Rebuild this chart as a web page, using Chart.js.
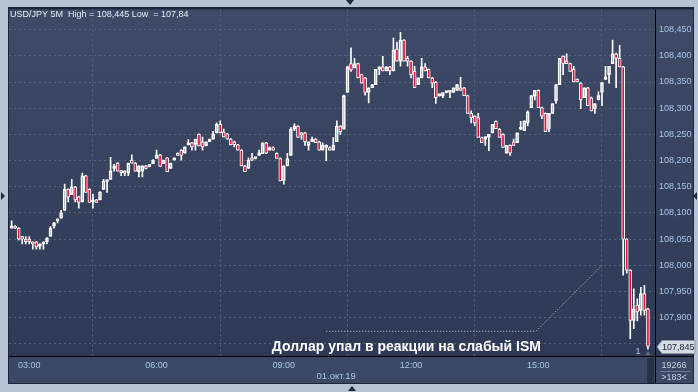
<!DOCTYPE html>
<html><head><meta charset="utf-8">
<script src="https://cdn.jsdelivr.net/npm/chart.js@4"></script>
<style>html,body{margin:0;padding:0;background:#b8c3d2;}canvas{display:block;}</style>
</head><body>
<canvas id="c" width="698" height="392" style="width:698px;height:392px"></canvas>
<script>
// ---- data (USD/JPY 5M candles, index 0 = 02:35) ----
const opens = [108.071,108.075,108.071,108.055,108.050,108.050,108.044,108.045,108.036,108.041,108.045,108.055,108.075,108.085,108.090,108.105,108.145,108.135,108.150,108.131,108.121,108.171,108.145,108.121,108.125,108.125,108.145,108.160,108.164,108.185,108.195,108.180,108.180,108.176,108.201,108.195,108.179,108.180,108.190,108.189,108.194,108.204,108.211,108.194,108.205,108.185,108.201,108.214,108.220,108.214,108.230,108.234,108.231,108.250,108.236,108.228,108.236,108.241,108.253,108.269,108.255,108.251,108.241,108.236,108.230,108.220,108.190,108.185,108.205,108.204,108.210,108.213,108.234,108.220,108.225,108.214,108.204,108.162,108.190,108.210,108.260,108.266,108.253,108.253,108.229,108.236,108.241,108.236,108.220,108.225,108.225,108.220,108.236,108.266,108.260,108.330,108.385,108.377,108.385,108.364,108.358,108.330,108.339,108.345,108.374,108.379,108.371,108.379,108.371,108.413,108.390,108.430,108.395,108.390,108.371,108.345,108.358,108.379,108.374,108.358,108.350,108.324,108.323,108.330,108.330,108.330,108.334,108.339,108.339,108.324,108.290,108.285,108.282,108.244,108.241,108.244,108.253,108.275,108.260,108.250,108.214,108.229,108.236,108.234,108.260,108.257,108.272,108.301,108.323,108.334,108.301,108.290,108.260,108.290,108.314,108.345,108.399,108.390,108.385,108.374,108.355,108.348,108.320,108.339,108.320,108.299,108.316,108.330,108.355,108.364,108.385,108.404,108.395,108.379,108.050,107.991,107.895,107.924,107.914,107.946,107.917];
const highs = [108.085,108.076,108.072,108.056,108.055,108.055,108.045,108.046,108.041,108.045,108.053,108.074,108.082,108.089,108.105,108.155,108.146,108.164,108.151,108.132,108.176,108.172,108.146,108.136,108.126,108.141,108.164,108.161,108.206,108.193,108.196,108.181,108.181,108.195,108.211,108.196,108.190,108.190,108.191,108.190,108.202,108.220,108.212,108.201,108.206,108.195,108.205,108.215,108.221,108.226,108.240,108.235,108.241,108.251,108.245,108.236,108.241,108.256,108.272,108.276,108.260,108.252,108.242,108.237,108.231,108.221,108.191,108.205,108.214,108.205,108.220,108.234,108.235,108.226,108.226,108.215,108.205,108.190,108.214,108.263,108.270,108.267,108.254,108.254,108.236,108.245,108.242,108.237,108.234,108.230,108.226,108.244,108.276,108.267,108.325,108.380,108.415,108.395,108.386,108.365,108.359,108.339,108.345,108.374,108.379,108.399,108.379,108.380,108.434,108.426,108.445,108.431,108.399,108.391,108.380,108.358,108.395,108.385,108.375,108.359,108.351,108.325,108.330,108.331,108.334,108.339,108.345,108.359,108.340,108.325,108.295,108.286,108.290,108.245,108.246,108.250,108.269,108.276,108.261,108.251,108.229,108.230,108.241,108.253,108.275,108.276,108.295,108.324,108.334,108.335,108.302,108.291,108.290,108.309,108.345,108.395,108.400,108.404,108.386,108.380,108.356,108.349,108.339,108.340,108.321,108.309,108.331,108.349,108.380,108.380,108.430,108.405,108.420,108.380,108.051,107.992,107.955,107.936,107.958,107.962,107.918];
const lows = [108.071,108.070,108.048,108.041,108.041,108.041,108.031,108.031,108.031,108.031,108.041,108.055,108.071,108.081,108.090,108.105,108.121,108.135,108.121,108.109,108.121,108.139,108.120,108.109,108.120,108.125,108.145,108.139,108.164,108.180,108.180,108.171,108.171,108.171,108.195,108.180,108.169,108.169,108.184,108.188,108.194,108.204,108.189,108.194,108.179,108.185,108.201,108.210,108.201,108.214,108.230,108.220,108.220,108.228,108.220,108.228,108.236,108.241,108.253,108.253,108.245,108.241,108.230,108.226,108.220,108.190,108.179,108.185,108.200,108.203,108.210,108.213,108.213,108.220,108.220,108.204,108.161,108.155,108.190,108.210,108.257,108.244,108.241,108.229,108.220,108.236,108.234,108.220,108.220,108.200,108.220,108.220,108.236,108.250,108.260,108.330,108.370,108.377,108.358,108.348,108.325,108.310,108.339,108.345,108.364,108.371,108.371,108.364,108.371,108.390,108.380,108.390,108.380,108.358,108.339,108.345,108.358,108.371,108.358,108.339,108.309,108.323,108.320,108.329,108.320,108.330,108.334,108.334,108.324,108.290,108.272,108.266,108.244,108.234,108.229,108.219,108.253,108.261,108.244,108.225,108.214,108.210,108.229,108.234,108.259,108.257,108.266,108.301,108.316,108.301,108.280,108.255,108.255,108.290,108.309,108.345,108.364,108.385,108.370,108.350,108.350,108.299,108.320,108.305,108.295,108.290,108.316,108.305,108.355,108.348,108.385,108.339,108.379,107.981,107.985,107.860,107.879,107.894,107.905,107.905,107.840];
const closes = [108.075,108.071,108.050,108.050,108.045,108.045,108.041,108.035,108.041,108.045,108.052,108.071,108.081,108.086,108.100,108.145,108.130,108.150,108.125,108.120,108.171,108.139,108.120,108.122,108.120,108.140,108.161,108.161,108.180,108.190,108.180,108.177,108.176,108.195,108.195,108.180,108.190,108.190,108.185,108.189,108.201,108.211,108.189,108.201,108.179,108.195,108.205,108.210,108.210,108.226,108.231,108.226,108.241,108.228,108.226,108.236,108.241,108.251,108.269,108.253,108.245,108.241,108.230,108.230,108.220,108.190,108.179,108.201,108.201,108.204,108.215,108.234,108.214,108.225,108.220,108.204,108.161,108.190,108.204,108.260,108.266,108.244,108.249,108.236,108.236,108.241,108.234,108.220,108.229,108.229,108.220,108.229,108.266,108.255,108.324,108.379,108.373,108.385,108.358,108.348,108.330,108.339,108.345,108.374,108.379,108.371,108.379,108.371,108.411,108.390,108.430,108.390,108.390,108.364,108.339,108.358,108.379,108.371,108.358,108.348,108.320,108.324,108.330,108.330,108.334,108.339,108.345,108.334,108.324,108.290,108.282,108.272,108.244,108.234,108.246,108.250,108.269,108.261,108.244,108.225,108.229,108.214,108.229,108.253,108.261,108.276,108.293,108.324,108.334,108.301,108.285,108.255,108.290,108.309,108.345,108.395,108.385,108.385,108.370,108.350,108.350,108.316,108.339,108.305,108.295,108.309,108.324,108.349,108.360,108.380,108.404,108.395,108.379,108.050,107.991,107.895,107.917,107.911,107.946,107.914,107.845];

const xTickIndex  = [5, 41, 77, 113, 149];
const xTickLabels = ['03:00', '06:00', '09:00', '12:00', '15:00'];
const yTickValues = [107.85, 107.90, 107.95, 108.00, 108.05, 108.10, 108.15, 108.20, 108.25, 108.30, 108.35, 108.40, 108.45];
const yHiddenLabels = [107.85];
const dateLabel = '01.окт.19';
const dateLabelIndex = 91.8;

const titleText = 'USD/JPY 5M  High = 108,445 Low  = 107,84';
const annText = 'Доллар упал в реакции на слабый ISM';
const annTextX = 73.6, annTextY = 107.844;
const annLineX = [89, 148.3, 167];
const annLineY = [107.874, 107.874, 108.0];
const barsCountText = ['19266', '>183<'];

const fmt = v => v.toFixed(3).replace('.', ',');
const RED = '#e3123d';
const LABEL = '#a9c6ec';

const bodies = opens.map((o, i) => ({x: i, y: [Math.min(o, closes[i]), Math.max(o, closes[i])]}));
const upperW = opens.map((o, i) => ({x: i, y: [Math.max(o, closes[i]), highs[i]]}));
const lowerW = opens.map((o, i) => ({x: i, y: [lows[i], Math.min(o, closes[i])]}));

Chart.defaults.font.family = '"Liberation Sans", Arial, sans-serif';
Chart.defaults.font.size = 9;

const bgPlugin = {
  id: 'bg',
  beforeDraw(chart) {
    const {ctx, chartArea: a, width, height} = chart;
    ctx.save();
    ctx.fillStyle = '#b8c3d2';
    ctx.fillRect(0, 0, width, height);
    ctx.fillStyle = '#1c253a';
    ctx.fillRect(8, 7, 686, 377);
    const g = ctx.createLinearGradient(0, a.top, 0, a.bottom);
    g.addColorStop(0, '#3e4a66');
    g.addColorStop(1, '#2d3955');
    ctx.fillStyle = g;
    ctx.fillRect(a.left, a.top, 693 - a.left, a.bottom - a.top);
    ctx.fillStyle = '#3b4865';
    ctx.fillRect(a.left, a.bottom, 693 - a.left, 383 - a.bottom);
    ctx.fillStyle = '#283247';
    ctx.fillRect(647, a.bottom + 1, 7, 383 - a.bottom - 1);
    ctx.fillStyle = '#1e2a40';
    const tri = (pts) => { ctx.beginPath(); ctx.moveTo(pts[0], pts[1]); ctx.lineTo(pts[2], pts[3]); ctx.lineTo(pts[4], pts[5]); ctx.closePath(); ctx.fill(); };
    tri([346, 0, 354, 0, 350, 5]);
    tri([348, 391, 356, 391, 352, 386]);
    tri([1, 192, 1, 200, 5, 196]);
    tri([697, 192, 697, 200, 693, 196]);
    ctx.restore();
  },
  afterDraw(chart) {
    const {ctx, chartArea: a, scales} = chart;
    const xs = scales.x, ys = scales.y;
    ctx.save();
    ctx.strokeStyle = '#000';
    ctx.lineWidth = 1;
    ctx.beginPath();
    ctx.moveTo(a.left, a.bottom - 0.5); ctx.lineTo(693, a.bottom - 0.5);
    ctx.moveTo(a.right + 0.5, a.top); ctx.lineTo(a.right + 0.5, 383);
    ctx.stroke();
    ctx.font = '9px "Liberation Sans", Arial, sans-serif';
    ctx.fillStyle = '#e8ecf2';
    ctx.textBaseline = 'middle';
    ctx.textAlign = 'left';
    ctx.fillText(titleText, 10, 15);
    ctx.font = 'bold 14px "Liberation Sans", Arial, sans-serif';
    ctx.fillStyle = '#ffffff';
    ctx.fillText(annText, xs.getPixelForValue(annTextX), ys.getPixelForValue(annTextY));
    ctx.font = '9.5px "Liberation Sans", Arial, sans-serif';
    ctx.fillStyle = LABEL;
    ctx.textAlign = 'center';
    ctx.fillText(dateLabel, xs.getPixelForValue(dateLabelIndex), 376);
    ctx.font = '9px "Liberation Sans", Arial, sans-serif';
    ctx.fillText('1', 638, 352);
    ctx.fillStyle = '#5c6780';
    ctx.beginPath(); ctx.moveTo(645, 355); ctx.lineTo(651, 355); ctx.lineTo(648, 351); ctx.closePath(); ctx.fill();
    const last = closes[closes.length - 1];
    const py = Math.round(ys.getPixelForValue(last));
    ctx.fillStyle = '#d5dbe3';
    ctx.strokeStyle = '#8c98ac';
    ctx.beginPath();
    ctx.moveTo(657, py); ctx.lineTo(662, py - 6.5); ctx.lineTo(695, py - 6.5);
    ctx.lineTo(695, py + 6.5); ctx.lineTo(662, py + 6.5); ctx.closePath();
    ctx.fill(); ctx.stroke();
    ctx.fillStyle = '#1a2232';
    ctx.textAlign = 'left';
    ctx.fillText(fmt(last), 662, py + 0.5);
    ctx.fillStyle = '#c9d1de';
    ctx.textAlign = 'center';
    ctx.fillText(barsCountText[0], 674, 365.5);
    ctx.fillText(barsCountText[1], 674, 378);
    ctx.strokeStyle = '#6c7892';
    ctx.beginPath(); ctx.moveTo(660, 371.5); ctx.lineTo(690, 371.5); ctx.stroke();
    ctx.restore();
  }
};

new Chart(document.getElementById('c'), {
  type: 'bar',
  data: {
    datasets: [
      {
        data: bodies, grouped: false, barThickness: 3, minBarLength: 2,
        borderWidth: 1, borderColor: '#ffffff', borderSkipped: false,
        backgroundColor: bodies.map((b, i) => closes[i] < opens[i] ? RED : 'rgba(0,0,0,0)')
      },
      { data: upperW, grouped: false, barThickness: 1, backgroundColor: '#ffffff', borderWidth: 0 },
      { data: lowerW, grouped: false, barThickness: 1, backgroundColor: '#ffffff', borderWidth: 0 },
      {
        type: 'line', data: annLineX.map((x, i) => ({x: x, y: annLineY[i]})),
        borderColor: 'rgba(225,230,238,0.9)', borderWidth: 1, borderDash: [1, 2],
        pointRadius: 0, tension: 0, fill: false
      }
    ]
  },
  options: {
    responsive: false, animation: false, devicePixelRatio: 1, events: [],
    layout: { padding: { left: 9, top: 8, right: 5, bottom: 9 } },
    plugins: { legend: { display: false }, tooltip: { enabled: false } },
    scales: {
      x: {
        type: 'linear', min: -0.74, max: 182.0, offset: false,
        afterBuildTicks: s => { s.ticks = xTickIndex.map(v => ({value: v})); },
        afterFit: s => { s.height = 26; },
        ticks: {
          autoSkip: false, maxRotation: 0, padding: 3, color: LABEL, font: { size: 9 },
          callback: v => xTickLabels[xTickIndex.indexOf(v)] || ''
        },
        grid: { color: '#55627e', drawTicks: false, lineWidth: 1 },
        border: { display: false, dash: [2, 3] }
      },
      y: {
        type: 'linear', position: 'right', min: 107.825, max: 108.4886,
        afterBuildTicks: s => { s.ticks = yTickValues.map(v => ({value: v})); },
        afterFit: s => { s.width = 38; },
        ticks: {
          autoSkip: false, padding: 4, color: LABEL, font: { size: 9 },
          callback: v => yHiddenLabels.includes(v) ? '' : fmt(v)
        },
        grid: { color: '#55627e', drawTicks: false, lineWidth: 1 },
        border: { display: false, dash: [2, 3] }
      }
    }
  },
  plugins: [bgPlugin]
});
</script>
</body></html>
